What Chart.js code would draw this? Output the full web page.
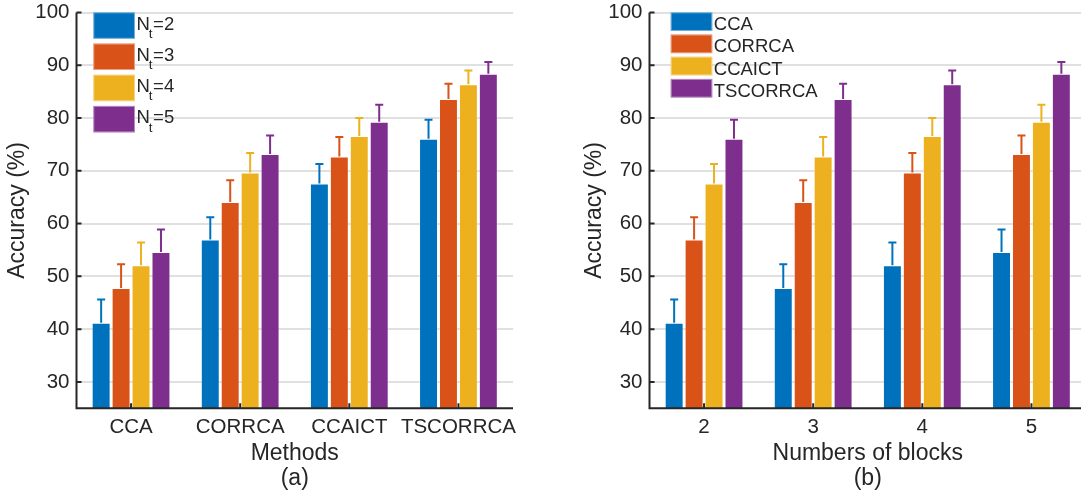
<!DOCTYPE html>
<html>
<head>
<meta charset="utf-8">
<script src="https://cdn.jsdelivr.net/npm/chart.js@4/dist/chart.umd.min.js"></script>
<style>
  html, body { margin: 0; padding: 0; background: #fff; }
  #wrap { position: relative; width: 1081px; height: 497px; overflow: hidden; }
  #boxA { position: absolute; left: 0; top: 0; width: 540px; height: 497px; }
  #boxB { position: absolute; left: 540px; top: 0; width: 541px; height: 497px; overflow: hidden; }
</style>
</head>
<body>
<div id="wrap">
  <div id="boxA"><canvas id="chartA" width="540" height="497"></canvas></div>
  <div id="boxB"><canvas id="chartB" width="560" height="497"></canvas></div>
</div>
<script>
// categories
var methods = ['CCA', 'CORRCA', 'CCAICT', 'TSCORRCA'];
var blocks = ['2', '3', '4', '5'];
var yTicks = [30, 40, 50, 60, 70, 80, 90, 100];

// accuracy (%) per method, for 2..5 blocks (N_t)
var ccaAcc      = [41.2, 47.8, 52.1, 54.6];
var corrcaAcc   = [57.0, 64.1, 69.7, 73.2];
var ccaictAcc   = [67.6, 72.7, 76.6, 79.3];
var tscorrcaAcc = [76.1, 83.6, 86.4, 88.4];

// upper error (std) per method
var ccaErr      = [4.4, 4.5, 4.3, 4.3];
var corrcaErr   = [4.2, 4.1, 3.7, 3.5];
var ccaictErr   = [3.7, 3.7, 3.4, 3.2];
var tscorrcaErr = [3.6, 2.9, 2.6, 2.2];

var colors = ['#0072BD', '#D95319', '#EDB120', '#7E2F8E'];

var allAcc = [ccaAcc, corrcaAcc, ccaictAcc, tscorrcaAcc];
var allErr = [ccaErr, corrcaErr, ccaictErr, tscorrcaErr];

var FONT = "'Liberation Sans', Arial, Helvetica, sans-serif";
var INK = '#262626';
Chart.defaults.font.family = FONT;
Chart.defaults.color = INK;

// error bars, axis lines, inward ticks and legend
var extras = {
    id: 'extras',
    afterDatasetsDraw: function(chart) {
        var ctx = chart.ctx;
        var area = chart.chartArea;
        var ys = chart.scales.y;
        ctx.save();
        chart.data.datasets.forEach(function(ds, i) {
            var meta = chart.getDatasetMeta(i);
            meta.data.forEach(function(bar, j) {
                var top = ys.getPixelForValue(ds.data[j] + ds.err[j]);
                ctx.strokeStyle = ds.backgroundColor;
                ctx.lineWidth = 2;
                ctx.beginPath();
                ctx.moveTo(bar.x, bar.y);
                ctx.lineTo(bar.x, top);
                ctx.moveTo(bar.x - 4, top);
                ctx.lineTo(bar.x + 4, top);
                ctx.stroke();
            });
        });
        ctx.strokeStyle = INK;
        ctx.lineWidth = 2;
        ctx.beginPath();
        ctx.moveTo(area.left, area.top);
        ctx.lineTo(area.left, area.bottom);
        ctx.lineTo(area.right, area.bottom);
        ys.ticks.forEach(function(t) {
            var y = ys.getPixelForValue(t.value);
            ctx.moveTo(area.left, y);
            ctx.lineTo(area.left + 5, y);
        });
        var xs = chart.scales.x;
        xs.ticks.forEach(function(t, k) {
            var x = xs.getPixelForTick(k);
            ctx.moveTo(x, area.bottom);
            ctx.lineTo(x, area.bottom - 5);
        });
        ctx.stroke();
        ctx.restore();
    },
    afterDraw: function(chart, args, opts) {
        var ctx = chart.ctx;
        ctx.save();
        ctx.textBaseline = 'alphabetic';
        chart.data.datasets.forEach(function(ds, i) {
            var y0 = opts.top + i * opts.step;
            ctx.fillStyle = ds.backgroundColor;
            ctx.fillRect(opts.x, y0, opts.w, opts.h);
            ctx.strokeStyle = 'rgba(255,255,255,0.45)';
            ctx.lineWidth = 1;
            ctx.strokeRect(opts.x + 0.5, y0 + 0.5, opts.w - 1, opts.h - 1);
            ctx.fillStyle = INK;
            var tx = opts.x + opts.w + 1.5;
            var base = y0 + opts.base;
            if (opts.sub) {
                ctx.font = '18.5px ' + FONT;
                ctx.fillText('N', tx, base);
                tx += ctx.measureText('N').width - 1;
                ctx.font = '13.5px ' + FONT;
                ctx.fillText('t', tx, base + 8.5);
                tx += ctx.measureText('t').width + 0.5;
                ctx.font = '18.5px ' + FONT;
                ctx.fillText('=' + blocks[i], tx, base);
            } else {
                ctx.font = '18.5px ' + FONT;
                ctx.fillText(ds.label, tx, base);
            }
        });
        ctx.restore();
    }
};

function makeChart(id, labels, datasets, xTitle, yWidth, yTitlePad, padRight, legend) {
    var ctx = document.getElementById(id).getContext('2d');
    return new Chart(ctx, {
        type: 'bar',
        data: { labels: labels, datasets: datasets },
        options: {
            responsive: false,
            animation: false,
            devicePixelRatio: 1,
            layout: { padding: { left: 0, right: padRight, top: 12.5, bottom: 0 } },
            datasets: { bar: { categoryPercentage: 0.731, barPercentage: 0.95 } },
            plugins: {
                legend: { display: false },
                tooltip: { enabled: false },
                extras: legend
            },
            scales: {
                x: {
                    offset: true,
                    grid: { display: false, drawTicks: false },
                    border: { display: false },
                    ticks: { font: { size: 20.5 }, padding: 7, color: INK, maxRotation: 0, autoSkip: false },
                    title: { display: true, text: xTitle, font: { size: 23, lineHeight: 1.09 }, color: INK, padding: { top: 0, bottom: 5.5 } },
                    afterFit: function(s) { s.height = 88.7; s.paddingLeft = 0; s.paddingRight = 0; }
                },
                y: {
                    min: 25,
                    max: 100,
                    grid: { color: '#e0e0e0', lineWidth: 2, drawTicks: false },
                    border: { display: false },
                    ticks: { font: { size: 20.5 }, padding: 7, color: INK },
                    afterBuildTicks: function(s) { s.ticks = yTicks.map(function(v) { return { value: v }; }); },
                    title: { display: true, text: 'Accuracy (%)', font: { size: 23, lineHeight: 1.2 }, color: INK, padding: { top: yTitlePad, bottom: 0 } },
                    afterFit: function(s) { s.width = yWidth; s.paddingTop = 0; s.paddingBottom = 0; }
                }
            }
        },
        plugins: [extras]
    });
}

document.addEventListener('DOMContentLoaded', function() {
    // (a) grouped by method, one series per N_t
    var dsA = blocks.map(function(b, i) {
        return {
            label: 'Nt=' + b,
            data: allAcc.map(function(a) { return a[i]; }),
            err: allErr.map(function(e) { return e[i]; }),
            backgroundColor: colors[i],
            borderColor: 'rgba(255,255,255,0.3)',
            borderWidth: 1
        };
    });
    // (b) grouped by number of blocks, one series per method
    var dsB = methods.map(function(m, i) {
        return {
            label: m,
            data: allAcc[i],
            err: allErr[i],
            backgroundColor: colors[i],
            borderColor: 'rgba(255,255,255,0.3)',
            borderWidth: 1
        };
    });

    makeChart('chartA', methods, dsA, ['Methods', '(a)'], 76.5, 4.2, 27,
        { x: 93.3, top: 12.3, step: 31.2, w: 41.7, h: 26.5, base: 17.2, sub: true });
    makeChart('chartB', blocks, dsB, ['Numbers of blocks', '(b)'], 109.5, 40.9, 14,
        { x: 130.7, top: 12.3, step: 22.2, w: 41.6, h: 18.7, base: 17.8, sub: false });
});
</script>
</body>
</html>
